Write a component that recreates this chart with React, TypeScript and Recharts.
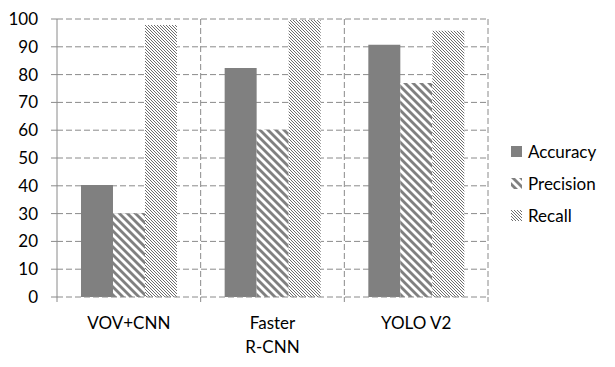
import { BarChart, Bar, XAxis, YAxis, CartesianGrid } from 'recharts';

const methods = ['VOV+CNN', 'Faster\nR-CNN', 'YOLO V2'];
const accuracy = [40.3, 82.4, 90.7];
const precision = [30.1, 60.2, 77.0];
const recall = [97.8, 99.6, 95.8];
const yTicks = [0, 10, 20, 30, 40, 50, 60, 70, 80, 90, 100];
const yMax = 100;

const W = 615;
const H = 367;
const FONT = 'Lato, sans-serif';
const GRID = '#8a8a8a';
const BAR = '#808080';

const data = methods.map((m, i) => ({
  method: m,
  accuracy: accuracy[i],
  precision: precision[i],
  recall: recall[i],
}));

const Patterns = ({ prefix }: { prefix: string }) => (
  <defs>
    <pattern id={`${prefix}-wide`} patternUnits="userSpaceOnUse" width={8} height={8}>
      <rect width={8} height={8} fill="#ffffff" />
      <polygon points="0,0 4,0 8,4 8,8" fill={BAR} />
      <polygon points="0,4 4,8 0,8" fill={BAR} />
    </pattern>
    <pattern id={`${prefix}-fine`} patternUnits="userSpaceOnUse" width={3} height={3}>
      <rect width={3} height={3} fill="#ffffff" />
      <rect x={0} y={0} width={1} height={1} fill="#6e6e6e" />
      <rect x={1} y={1} width={1} height={1} fill="#6e6e6e" />
      <rect x={2} y={2} width={1} height={1} fill="#6e6e6e" />
    </pattern>
  </defs>
);

const XTick = ({ x, y, payload, index, bandWidth }: any) => {
  const lines = String(payload.value).split('\n');
  const half = bandWidth / 2;
  return (
    <g>
      <line x1={x - half} x2={x - half} y1={y - 8} y2={y - 3} stroke={GRID} />
      {index === methods.length - 1 && (
        <line x1={x + half} x2={x + half} y1={y - 8} y2={y - 3} stroke={GRID} />
      )}
      <text x={x} y={y + 24} textAnchor="middle" fontFamily={FONT} fontSize={17} fill="#000">
        {lines.map((l, i) => (
          <tspan key={i} x={x} dy={i === 0 ? 0 : 24}>
            {l}
          </tspan>
        ))}
      </text>
    </g>
  );
};

const legendItems = [
  { label: 'Accuracy', fill: BAR },
  { label: 'Precision', fill: 'url(#lg-wide)' },
  { label: 'Recall', fill: 'url(#lg-fine)' },
];

export default function App() {
  const margin = { top: 19, right: 127, bottom: 0, left: 0 };
  const yAxisWidth = 57;
  const plotWidth = W - margin.left - margin.right - yAxisWidth;
  const bandWidth = plotWidth / methods.length;

  return (
    <div style={{ position: 'absolute', left: 0, top: 0, width: W, height: H, background: '#fff' }}>
      <BarChart
        width={W}
        height={H}
        data={data}
        margin={margin}
        barGap={0}
        barCategoryGap="16.7%"
      >
        <Patterns prefix="ch" />
        <CartesianGrid
          stroke={GRID}
          strokeDasharray="6 3"
          horizontalCoordinatesGenerator={({ offset }: any) =>
            yTicks
              .filter((t) => t > 0)
              .map((t) => offset.top + offset.height * (1 - t / yMax))
          }
          verticalCoordinatesGenerator={({ offset }: any) =>
            methods.map((_, i) => offset.left + ((i + 1) * offset.width) / methods.length)
          }
        />
        <XAxis
          dataKey="method"
          height={70}
          axisLine={{ stroke: GRID, strokeDasharray: '6 3' }}
          tickLine={false}
          interval={0}
          tick={<XTick bandWidth={bandWidth} />}
        />
        <YAxis
          width={yAxisWidth}
          domain={[0, yMax]}
          ticks={yTicks}
          interval={0}
          axisLine={{ stroke: GRID }}
          tickLine={{ stroke: GRID }}
          tickSize={6}
          tickMargin={13}
          tick={{ fontFamily: FONT, fontSize: 17, fill: '#000' }}
        />
        <Bar dataKey="accuracy" fill={BAR} isAnimationActive={false} />
        <Bar dataKey="precision" fill="url(#ch-wide)" isAnimationActive={false} />
        <Bar dataKey="recall" fill="url(#ch-fine)" isAnimationActive={false} />
      </BarChart>
      <div style={{ position: 'absolute', left: 511, top: 135, fontFamily: FONT, fontSize: 17, color: '#000' }}>
        {legendItems.map((item) => (
          <div key={item.label} style={{ display: 'flex', alignItems: 'center', height: 32 }}>
            <svg width={11} height={11} style={{ marginRight: 6 }}>
              <Patterns prefix="lg" />
              <rect width={11} height={11} fill={item.fill} />
            </svg>
            <span>{item.label}</span>
          </div>
        ))}
      </div>
    </div>
  );
}
